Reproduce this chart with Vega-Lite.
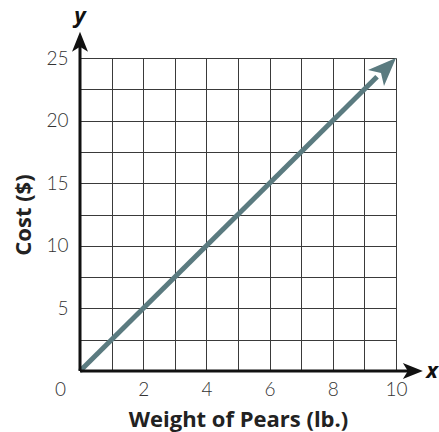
{
  "$schema": "https://vega.github.io/schema/vega-lite/v6.json",
  "width": 316,
  "height": 313,
  "autosize": {"type": "none"},
  "padding": {"left": 80, "top": 58, "right": 43, "bottom": 61},
  "background": "white",
  "config": {
    "view": {"stroke": null},
    "font": "Lato"
  },
  "datasets": {
    "costline": [
      {"weight": 0, "cost": 0},
      {"weight": 9.4, "cost": 23.5}
    ],
    "costhead": [{"weight": 10, "cost": 25}],
    "xaxisline": [
      {"weight": 0, "cost": 0},
      {"weight": 10.6, "cost": 0}
    ],
    "yaxisline": [
      {"weight": 0, "cost": 0},
      {"weight": 0, "cost": 26.6}
    ],
    "xhead": [{"weight": 10.85, "cost": 0}],
    "yhead": [{"weight": 0, "cost": 27.1}],
    "xlab": [{"weight": 11.14, "cost": 0, "t": "x"}],
    "ylab": [{"weight": 0, "cost": 28.35, "t": "y"}]
  },
  "encoding": {
    "x": {
      "field": "weight", "type": "quantitative",
      "scale": {"domain": [0, 10], "nice": false, "zero": false},
      "axis": {
        "values": [0, 1, 2, 3, 4, 5, 6, 7, 8, 9, 10],
        "labelExpr": "datum.value % 2 === 0 ? datum.label : ''",
        "domain": false,
        "ticks": false,
        "tickSize": 0,
        "grid": true,
        "gridColor": "#3a3a3a",
        "gridWidth": 1,
        "gridOpacity": 1,
        "labelFont": "Lato",
        "labelFontSize": 19,
        "labelFontWeight": 300,
        "labelColor": "#333333",
        "labelPadding": 9,
        "labelOffset": {"condition": {"test": "datum.value === 0", "value": -20}, "value": 0},
        "labelFlush": false,
        "labelOverlap": false,
        "title": "Weight of Pears (lb.)",
        "titleFont": "Open Sans",
        "titleFontSize": 22,
        "titleFontWeight": "bold",
        "titleColor": "#222222",
        "titlePadding": 10
      }
    },
    "y": {
      "field": "cost", "type": "quantitative",
      "scale": {"domain": [0, 25], "nice": false, "zero": false},
      "axis": {
        "values": [2.5, 5, 7.5, 10, 12.5, 15, 17.5, 20, 22.5, 25],
        "labelExpr": "datum.value % 5 === 0 ? datum.label : ''",
        "domain": false,
        "ticks": false,
        "tickSize": 0,
        "grid": true,
        "gridColor": "#3a3a3a",
        "gridWidth": 1,
        "gridOpacity": 1,
        "labelFont": "Lato",
        "labelFontSize": 19,
        "labelFontWeight": 300,
        "labelColor": "#333333",
        "labelPadding": 12,
        "labelFlush": false,
        "labelOverlap": false,
        "title": "Cost ($)",
        "titleFont": "Open Sans",
        "titleFontSize": 22,
        "titleFontWeight": "bold",
        "titleColor": "#222222",
        "titlePadding": 10
      }
    }
  },
  "layer": [
    {
      "data": {"name": "costline"},
      "mark": {"type": "line", "color": "#5b7b80", "strokeWidth": 5, "strokeCap": "butt", "clip": false}
    },
    {
      "data": {"name": "costhead"},
      "mark": {"type": "point", "shape": "M0,0L0.8,2L0,1.5L-0.8,2Z", "size": 800, "angle": 45, "filled": true, "color": "#5b7b80", "opacity": 1, "clip": false}
    },
    {
      "data": {"name": "xaxisline"},
      "mark": {"type": "line", "color": "#111111", "strokeWidth": 3, "clip": false}
    },
    {
      "data": {"name": "yaxisline"},
      "mark": {"type": "line", "color": "#111111", "strokeWidth": 3, "clip": false}
    },
    {
      "data": {"name": "xhead"},
      "mark": {"type": "point", "shape": "M0,0L0.8,2L0,1.5L-0.8,2Z", "size": 400, "angle": 90, "filled": true, "color": "#111111", "opacity": 1, "clip": false}
    },
    {
      "data": {"name": "yhead"},
      "mark": {"type": "point", "shape": "M0,0L0.8,2L0,1.5L-0.8,2Z", "size": 400, "angle": 0, "filled": true, "color": "#111111", "opacity": 1, "clip": false}
    },
    {
      "data": {"name": "xlab"},
      "mark": {"type": "text", "font": "Open Sans", "fontSize": 22, "fontWeight": "bold", "fontStyle": "italic", "color": "#111111", "align": "center", "baseline": "middle", "clip": false},
      "encoding": {"text": {"field": "t"}}
    },
    {
      "data": {"name": "ylab"},
      "mark": {"type": "text", "font": "Open Sans", "fontSize": 22, "fontWeight": "bold", "fontStyle": "italic", "color": "#111111", "align": "center", "baseline": "middle", "clip": false},
      "encoding": {"text": {"field": "t"}}
    }
  ]
}
